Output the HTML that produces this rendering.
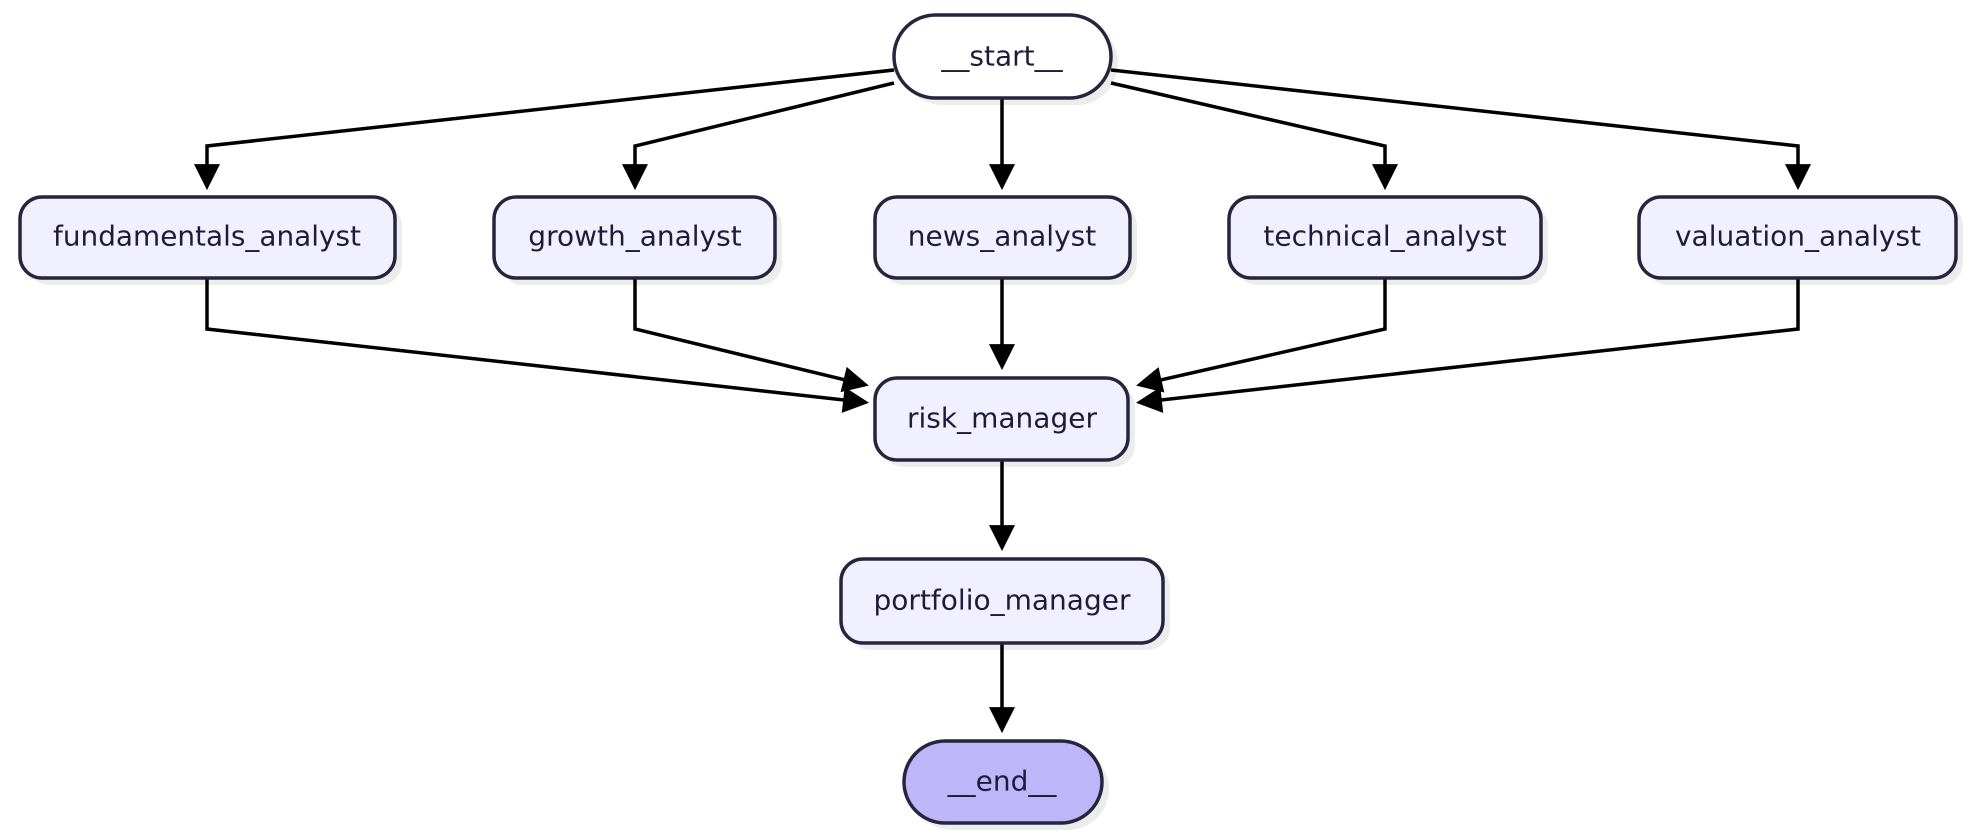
<!DOCTYPE html>
<html><head><meta charset="utf-8"><style>
html,body{margin:0;padding:0;background:#fff;}
svg{display:block}
text{font-family:"DejaVu Sans","Liberation Sans",sans-serif;font-size:28px;fill:#1f1c3a;text-anchor:middle;dominant-baseline:central}
.n{fill:#f1f0fe;stroke:#27253d;stroke-width:3.5}
.s{fill:#ececec}
.e{fill:none;stroke:#000;stroke-width:3.5}
</style></head><body>
<svg width="1976" height="839" viewBox="0 0 1976 839" xmlns="http://www.w3.org/2000/svg">
<defs>
<marker id="a" markerUnits="userSpaceOnUse" markerWidth="26" markerHeight="26" refX="16" refY="11" orient="auto" viewBox="0 0 22 22" overflow="visible"><path d="M0,0 L22,11 L0,22 z" fill="#000"/></marker>
</defs>
<!-- shadows -->
<rect class="s" x="901" y="22" width="217" height="83" rx="41.5"/>
<rect class="s" x="27" y="204" width="375" height="81" rx="22"/>
<rect class="s" x="501" y="204" width="281" height="81" rx="22"/>
<rect class="s" x="882" y="204" width="255" height="81" rx="22"/>
<rect class="s" x="1236" y="204" width="312" height="81" rx="22"/>
<rect class="s" x="1646" y="204" width="317" height="81" rx="22"/>
<rect class="s" x="882" y="385" width="253" height="82" rx="22"/>
<rect class="s" x="848" y="566" width="322" height="84" rx="22"/>
<rect class="s" x="911" y="748" width="198" height="82" rx="41"/>
<!-- edges -->
<path class="e" marker-end="url(#a)" d="M894,70 L207,146 L207,183"/>
<path class="e" marker-end="url(#a)" d="M894,83 L635,146 L635,183"/>
<path class="e" marker-end="url(#a)" d="M1002,98 L1002,183"/>
<path class="e" marker-end="url(#a)" d="M1111,83 L1385,146 L1385,183"/>
<path class="e" marker-end="url(#a)" d="M1111,70 L1798,146 L1798,183"/>
<path class="e" marker-end="url(#a)" d="M207,278 L207,329 L862,402"/>
<path class="e" marker-end="url(#a)" d="M635,278 L635,329 L862,384"/>
<path class="e" marker-end="url(#a)" d="M1002,278 L1002,363"/>
<path class="e" marker-end="url(#a)" d="M1385,278 L1385,329 L1143,384"/>
<path class="e" marker-end="url(#a)" d="M1798,278 L1798,329 L1143,402"/>
<path class="e" marker-end="url(#a)" d="M1002,460 L1002,544"/>
<path class="e" marker-end="url(#a)" d="M1002,643 L1002,726"/>
<!-- nodes -->
<rect class="n" style="fill:#fff" x="894" y="15" width="217" height="83" rx="41.5"/>
<text x="1002" y="56">__start__</text>
<rect class="n" x="20" y="197" width="375" height="81" rx="22"/>
<text x="207" y="236" textLength="308" lengthAdjust="spacingAndGlyphs">fundamentals_analyst</text>
<rect class="n" x="494" y="197" width="281" height="81" rx="22"/>
<text x="635" y="236">growth_analyst</text>
<rect class="n" x="875" y="197" width="255" height="81" rx="22"/>
<text x="1002" y="236">news_analyst</text>
<rect class="n" x="1229" y="197" width="312" height="81" rx="22"/>
<text x="1385" y="236">technical_analyst</text>
<rect class="n" x="1639" y="197" width="317" height="81" rx="22"/>
<text x="1798" y="236">valuation_analyst</text>
<rect class="n" x="875" y="378" width="253" height="82" rx="22"/>
<text x="1002" y="418">risk_manager</text>
<rect class="n" x="841" y="559" width="322" height="84" rx="22"/>
<text x="1002" y="600">portfolio_manager</text>
<rect class="n" style="fill:#bfb6f9" x="904" y="741" width="198" height="82" rx="41"/>
<text x="1002" y="781">__end__</text>
</svg>
</body></html>
